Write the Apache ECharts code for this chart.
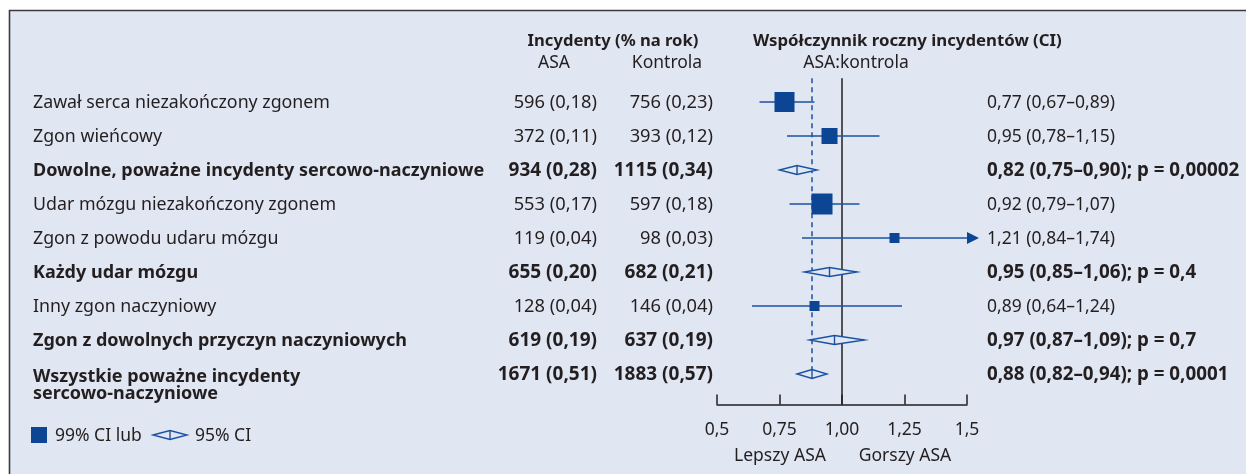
<!DOCTYPE html>
<html><head><meta charset="utf-8">
<script src="https://cdn.jsdelivr.net/npm/echarts@6/dist/echarts.min.js"></script>
<style>html,body{margin:0;padding:0;background:#fff}#c{width:1246px;height:474px}</style>
</head><body><div id="c"></div>
<script>
const categories = [
  'Zawał serca niezakończony zgonem',
  'Zgon wieńcowy',
  'Dowolne, poważne incydenty sercowo-naczyniowe',
  'Udar mózgu niezakończony zgonem',
  'Zgon z powodu udaru mózgu',
  'Każdy udar mózgu',
  'Inny zgon naczyniowy',
  'Zgon z dowolnych przyczyn naczyniowych',
  'Wszystkie poważne incydenty\nsercowo-naczyniowe'
];
const asaEvents = ['596 (0,18)','372 (0,11)','934 (0,28)','553 (0,17)','119 (0,04)','655 (0,20)','128 (0,04)','619 (0,19)','1671 (0,51)'];
const ctrlEvents = ['756 (0,23)','393 (0,12)','1115 (0,34)','597 (0,18)','98 (0,03)','682 (0,21)','146 (0,04)','637 (0,19)','1883 (0,57)'];
const hr = [0.77, 0.95, 0.82, 0.92, 1.21, 0.95, 0.89, 0.97, 0.88];
const ciLow = [0.67, 0.78, 0.75, 0.79, 0.84, 0.85, 0.64, 0.87, 0.82];
const ciHigh = [0.89, 1.15, 0.90, 1.07, 1.74, 1.06, 1.24, 1.09, 0.94];
const ciType = ['99','99','95','99','99','95','99','95','95'];
const weight = [20, 16, 0, 21, 10, 0, 10, 0, 0];
const isSummary = [false,false,true,false,false,true,false,true,true];
const hrText = ['0,77 (0,67–0,89)','0,95 (0,78–1,15)','0,82 (0,75–0,90); p = 0,00002','0,92 (0,79–1,07)','1,21 (0,84–1,74)','0,95 (0,85–1,06); p = 0,4','0,89 (0,64–1,24)','0,97 (0,87–1,09); p = 0,7','0,88 (0,82–0,94); p = 0,0001'];
const xTicks = ['0,5','0,75','1,00','1,25','1,5'];
const overallHR = hr[8];

const BLUE = '#0b4594';
const LINE = '#1a52a3';
const TXT = '#231f20';
const BG = '#e0e6f2';
const FONT = '"Noto Sans", "Open Sans", sans-serif';
const FS = 17.5;

const rows = hr.map((v, i) => [i + 1, v, ciLow[i], ciHigh[i], ciType[i] === '95' ? 1 : 0, weight[i]]);

const chart = echarts.init(document.getElementById('c'), null, {renderer: 'canvas'});

function renderForest(params, api) {
  const y = api.value(0), v = api.value(1), lo = api.value(2), hi = api.value(3), dia = api.value(4), w = api.value(5);
  const pC = api.coord([v, y]);
  const pL = api.coord([lo, y]);
  const xmax = 1.5;
  const pH = api.coord([Math.min(hi, xmax), y]);
  const children = [];
  if (dia) {
    const h = 4.5;
    children.push({type: 'polygon', shape: {points: [[pL[0], pC[1]], [pC[0], pC[1] - h], [pH[0], pC[1]], [pC[0], pC[1] + h]]},
      style: {fill: BG, stroke: LINE, lineWidth: 1.4}});
    children.push({type: 'line', shape: {x1: pC[0], y1: pC[1] - h, x2: pC[0], y2: pC[1] + h}, style: {stroke: LINE, lineWidth: 1.4}});
  } else {
    children.push({type: 'line', shape: {x1: pL[0], y1: pC[1], x2: pH[0], y2: pC[1]}, style: {stroke: LINE, lineWidth: 1.3}});
    if (hi > xmax) {
      children.push({type: 'polygon', shape: {points: [[pH[0], pC[1] - 6], [pH[0] + 12, pC[1]], [pH[0], pC[1] + 6]]}, style: {fill: BLUE}});
    }
    children.push({type: 'rect', shape: {x: pC[0] - w / 2, y: pC[1] - w / 2, width: w, height: w}, style: {fill: BLUE}});
  }
  return {type: 'group', children: children};
}

function renderText(params, api) {
  const i = params.dataIndex;
  const y = api.coord([1, api.value(0)])[1] + 1;
  const b = isSummary[i];
  const fw = b ? 'bold' : 'normal';
  const base = {fill: TXT, fontFamily: FONT, fontWeight: fw};
  const multi = categories[i].indexOf('\n') >= 0;
  return {type: 'group', children: [
    {type: 'text', x: 33, y: y - 9 + (multi ? 2 : 0), style: Object.assign({}, base, {fontSize: b ? 18 : 17.8, text: categories[i], textAlign: 'left', textVerticalAlign: 'top', lineHeight: 17})},
    {type: 'text', x: 597, y: y, style: Object.assign({}, base, {fontSize: b ? 19 : 18.3, text: asaEvents[i], textAlign: 'right', textVerticalAlign: 'middle'})},
    {type: 'text', x: 713, y: y, style: Object.assign({}, base, {fontSize: b ? 19 : 18.3, text: ctrlEvents[i], textAlign: 'right', textVerticalAlign: 'middle'})},
    {type: 'text', x: 987, y: y, style: Object.assign({}, base, {fontSize: b ? 18.8 : 17.5, text: hrText[i], textAlign: 'left', textVerticalAlign: 'middle'})}
  ]};
}

const hdr = {fill: TXT, fontFamily: FONT, fontSize: FS};
chart.setOption({
  animation: false,
  backgroundColor: '#ffffff',
  textStyle: {fontFamily: FONT},
  graphic: [
    {type: 'rect', z: -10, shape: {x: 9.5, y: 10.5, width: 1260, height: 480}, style: {fill: BG, stroke: '#3a3a3a', lineWidth: 1.6}},
    {type: 'text', x: 613, y: 41, style: Object.assign({}, hdr, {fontSize: 16.6, text: 'Incydenty (% na rok)', fontWeight: 'bold', textAlign: 'center', textVerticalAlign: 'middle'})},
    {type: 'text', x: 554, y: 63, style: Object.assign({}, hdr, {text: 'ASA', textAlign: 'center', textVerticalAlign: 'middle'})},
    {type: 'text', x: 667, y: 63, style: Object.assign({}, hdr, {text: 'Kontrola', textAlign: 'center', textVerticalAlign: 'middle'})},
    {type: 'text', x: 753, y: 41, style: Object.assign({}, hdr, {fontSize: 16.8, text: 'Współczynnik roczny incydentów (CI)', fontWeight: 'bold', textAlign: 'left', textVerticalAlign: 'middle'})},
    {type: 'text', x: 856, y: 63, style: Object.assign({}, hdr, {text: 'ASA:kontrola', textAlign: 'center', textVerticalAlign: 'middle'})},
    {type: 'text', x: 780, y: 456, style: Object.assign({}, hdr, {text: 'Lepszy ASA', textAlign: 'center', textVerticalAlign: 'middle'})},
    {type: 'text', x: 905, y: 456, style: Object.assign({}, hdr, {text: 'Gorszy ASA', textAlign: 'center', textVerticalAlign: 'middle'})},
    {type: 'rect', shape: {x: 31, y: 427, width: 16, height: 16}, style: {fill: BLUE}},
    {type: 'text', x: 55, y: 436, style: Object.assign({}, hdr, {text: '99% CI lub', textAlign: 'left', textVerticalAlign: 'middle'})},
    {type: 'polygon', shape: {points: [[153, 435], [170, 430.5], [187, 435], [170, 439.5]]}, style: {fill: BG, stroke: LINE, lineWidth: 1.4}},
    {type: 'line', shape: {x1: 170, y1: 430.5, x2: 170, y2: 439.5}, style: {stroke: LINE, lineWidth: 1.4}},
    {type: 'text', x: 195, y: 436, style: Object.assign({}, hdr, {text: '95% CI', textAlign: 'left', textVerticalAlign: 'middle'})}
  ],
  grid: {left: 717, width: 250, top: 78.2, height: 326.4},
  xAxis: {
    type: 'value', min: 0.5, max: 1.5, interval: 0.25,
    axisLine: {lineStyle: {color: TXT, width: 1.5}},
    axisTick: {inside: true, length: 10, lineStyle: {color: TXT, width: 1.5}},
    splitLine: {show: false},
    axisLabel: {color: TXT, fontSize: FS, fontFamily: FONT, margin: 16,
      formatter: (val) => xTicks[Math.round((val - 0.5) / 0.25)]}
  },
  yAxis: {type: 'value', min: 0.3, max: 9.9, inverse: true, show: false},
  series: [
    {type: 'custom', name: 'forest', data: rows, renderItem: renderForest, z: 5,
      markLine: {silent: true, symbol: 'none', label: {show: false},
        data: [
          [{coord: [1, 0.3], lineStyle: {color: TXT, width: 1.5, type: 'solid'}}, {coord: [1, 9.9]}],
          [{coord: [overallHR, 0.3], lineStyle: {color: LINE, width: 1.5, type: [5, 4]}}, {coord: [overallHR, 9.1]}]
        ]}},
    {type: 'custom', name: 'text', data: rows, renderItem: renderText, z: 6}
  ]
});
</script></body></html>
